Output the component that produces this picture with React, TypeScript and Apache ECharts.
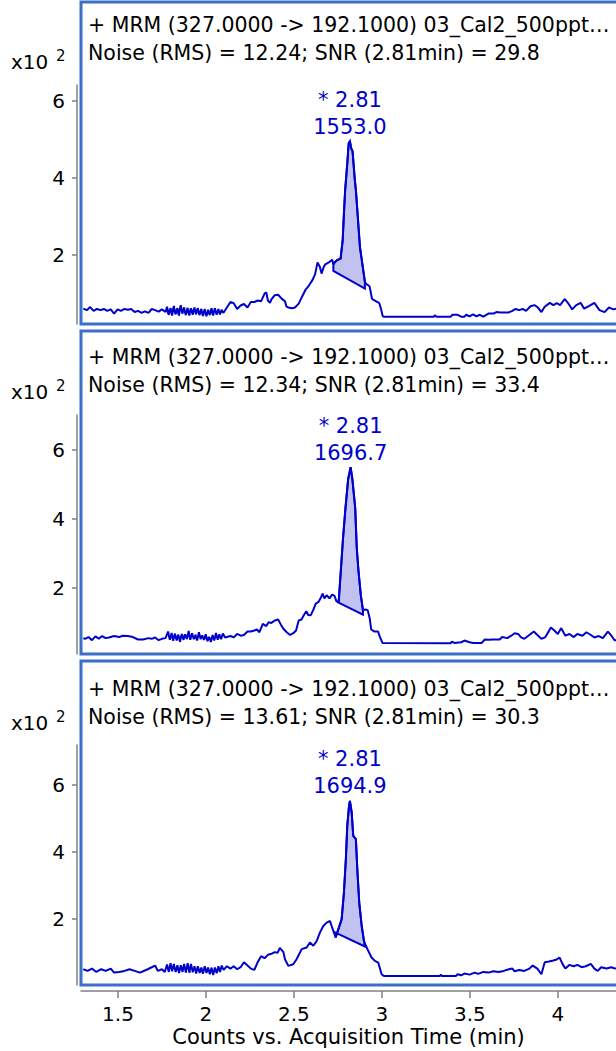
import { useEffect, useRef } from 'react';
import * as echarts from 'echarts';

// ---------- data ----------
const X_MIN = 1.29;
const X_MAX = 4.33;
const xTicks = [1.5, 2, 2.5, 3, 3.5, 4];
const yTicks = [200, 400, 600];
const yMins = [21, 9, 3];
const yMaxs = [642, 701, 719];

const titleLine1 = '+ MRM (327.0000 -> 192.1000) 03_Cal2_500ppt…';
const xAxisTitle = 'Counts vs. Acquisition Time (min)';
const retentionTimes = ['2.81', '2.81', '2.81'];
const peakAreas = ['1553.0', '1696.7', '1694.9'];
const noiseRms = ['12.24', '12.34', '13.61'];
const snrValues = ['29.8', '33.4', '30.3'];

const trace1: number[][] = [
  [1.303,61],[1.323,57],[1.342,65],[1.362,55],[1.381,60],[1.401,57],[1.420,60],[1.439,55],[1.459,59],[1.478,48],[1.498,59],[1.517,55],[1.537,60],[1.556,58],[1.575,60],[1.595,52],[1.614,55],[1.634,50],[1.653,54],[1.673,50],[1.692,60],[1.711,57],[1.731,53],[1.750,59],[1.770,52],
  [1.779,66],[1.784,50],[1.789,45],[1.794,58],[1.799,62],[1.804,49],[1.808,43],[1.813,60],[1.818,68],[1.823,52],[1.828,46],[1.833,57],[1.838,62],[1.842,50],[1.847,43],[1.852,61],[1.857,70],[1.862,55],[1.867,48],[1.871,58],[1.876,64],[1.881,51],[1.886,44],[1.891,56],[1.896,63],[1.901,50],[1.906,43],[1.910,55],[1.915,62],[1.920,52],[1.925,45],[1.930,57],[1.935,64],[1.940,52],[1.944,46],[1.949,57],[1.954,62],[1.959,50],[1.964,44],[1.969,55],[1.974,60],[1.978,49],[1.983,42],[1.988,52],[1.993,60],[1.998,48],[2.003,41],[2.008,50],[2.012,58],[2.017,50],[2.022,44],[2.027,55],[2.032,62],[2.036,50],[2.041,43],[2.046,55],[2.051,62],[2.056,52],[2.061,45],[2.066,54],[2.071,60],[2.075,52],[2.080,46],[2.085,53],[2.090,58],[2.095,52],[2.100,50],
  [2.119,64],[2.139,78],[2.158,75],[2.177,60],[2.197,69],[2.216,73],[2.236,64],[2.255,78],[2.275,78],[2.294,82],[2.313,80],[2.333,100],[2.343,103],[2.352,82],[2.364,76],[2.372,85],[2.391,96],[2.410,97],[2.430,87],[2.449,80],[2.458,66],[2.469,64],[2.488,62],[2.506,64],[2.527,74],[2.546,92],[2.566,110],[2.585,121],[2.605,135],[2.620,150],[2.634,181],[2.647,170],[2.657,152],[2.668,168],[2.678,176],[2.698,181],[2.717,188],[2.724,176],[2.731,181],[2.745,187],[2.765,191],[2.777,239],[2.784,308],[2.791,369],[2.803,438],[2.811,490],[2.818,496],[2.825,478],[2.833,470],[2.846,395],[2.852,369],[2.875,221],[2.903,131],[2.912,124],[2.922,122],[2.930,118],[2.944,86],[2.955,83],[2.985,75],[2.995,60],[3.004,42],[3.010,40],
  [3.295,40],[3.300,44],[3.310,40],[3.391,40],[3.401,45],[3.430,45],[3.450,40],[3.469,40],[3.479,45],[3.498,41],[3.518,46],[3.537,41],[3.556,45],[3.576,40],[3.605,48],[3.634,48],[3.650,52],[3.673,51],[3.721,51],[3.741,55],[3.760,60],[3.780,57],[3.799,60],[3.819,55],[3.844,67],[3.867,70],[3.886,64],[3.906,52],[3.925,66],[3.954,76],[3.974,70],[3.993,75],[4.013,70],[4.038,86],[4.061,73],[4.081,59],[4.104,70],[4.129,76],[4.149,61],[4.178,68],[4.207,76],[4.236,57],[4.265,52],[4.290,64],[4.314,59],[4.330,61],
];

const trace2: number[][] = [
  [1.303,55],[1.313,53],[1.333,58],[1.352,49],[1.372,60],[1.391,53],[1.410,61],[1.430,55],[1.449,57],[1.478,61],[1.507,58],[1.527,62],[1.556,61],[1.585,58],[1.614,51],[1.643,51],[1.673,55],[1.692,53],[1.711,57],[1.731,49],[1.750,53],[1.770,55],
  [1.785,74],[1.790,60],[1.795,50],[1.800,62],[1.805,70],[1.810,56],[1.814,47],[1.819,60],[1.824,68],[1.829,57],[1.834,48],[1.838,58],[1.843,65],[1.848,54],[1.853,44],[1.858,58],[1.863,67],[1.868,58],[1.873,50],[1.877,60],[1.882,66],[1.887,58],[1.892,52],[1.897,64],[1.902,76],[1.906,62],[1.911,50],[1.916,60],[1.921,69],[1.926,60],[1.931,52],[1.936,58],[1.941,65],[1.945,55],[1.950,48],[1.955,60],[1.960,72],[1.965,62],[1.970,52],[1.974,58],[1.979,63],[1.984,56],[1.989,50],[1.994,58],[1.999,66],[2.004,55],[2.009,46],[2.013,52],[2.018,59],[2.023,52],[2.028,44],[2.033,54],[2.038,64],[2.042,56],[2.047,48],[2.052,58],[2.057,70],[2.062,60],[2.067,50],[2.071,58],[2.076,66],[2.081,58],[2.086,52],[2.091,60],[2.096,68],
  [2.109,57],[2.139,61],[2.158,57],[2.177,67],[2.197,62],[2.216,64],[2.236,74],[2.255,74],[2.275,77],[2.290,80],[2.304,72],[2.323,96],[2.343,90],[2.356,101],[2.372,99],[2.391,106],[2.410,109],[2.426,94],[2.440,82],[2.459,72],[2.478,64],[2.498,70],[2.512,77],[2.527,106],[2.543,109],[2.556,121],[2.570,133],[2.581,122],[2.595,121],[2.611,138],[2.624,155],[2.640,160],[2.653,172],[2.663,184],[2.673,170],[2.686,179],[2.702,170],[2.717,181],[2.731,177],[2.741,162],[2.754,158],[2.766,247],[2.779,345],[2.793,433],[2.808,515],[2.822,550],[2.832,515],[2.848,433],[2.857,316],[2.867,248],[2.880,179],[2.892,136],[2.906,138],[2.919,136],[2.931,111],[2.939,80],[2.958,74],[2.978,74],[2.989,58],[3.003,41],
  [3.391,40],[3.397,45],[3.411,41],[3.450,43],[3.469,48],[3.498,43],[3.518,41],[3.566,41],[3.585,51],[3.605,50],[3.634,51],[3.669,51],[3.683,58],[3.712,55],[3.735,62],[3.754,69],[3.774,67],[3.789,58],[3.809,53],[3.832,62],[3.863,74],[3.883,64],[3.906,53],[3.929,58],[3.960,86],[3.980,77],[3.999,67],[4.019,84],[4.042,62],[4.065,67],[4.090,58],[4.110,67],[4.139,62],[4.162,72],[4.187,64],[4.207,57],[4.232,61],[4.255,55],[4.284,74],[4.304,62],[4.323,48],[4.330,50],
];

const trace3: number[][] = [
  [1.303,50],[1.327,45],[1.352,52],[1.377,42],[1.405,50],[1.430,45],[1.459,52],[1.478,40],[1.507,42],[1.537,45],[1.566,50],[1.595,45],[1.624,40],[1.643,44],[1.669,50],[1.692,56],[1.711,61],[1.727,45],[1.750,50],[1.766,42],
  [1.779,64],[1.784,52],[1.789,42],[1.794,56],[1.799,68],[1.804,55],[1.808,44],[1.813,56],[1.818,66],[1.823,52],[1.828,42],[1.833,52],[1.838,62],[1.842,50],[1.847,39],[1.852,50],[1.857,62],[1.862,52],[1.867,42],[1.871,54],[1.876,66],[1.881,52],[1.886,40],[1.891,54],[1.896,68],[1.901,54],[1.906,39],[1.910,52],[1.915,66],[1.920,54],[1.925,41],[1.930,50],[1.935,59],[1.940,48],[1.944,37],[1.949,48],[1.954,59],[1.959,50],[1.964,39],[1.969,46],[1.974,55],[1.978,46],[1.983,37],[1.988,48],[1.993,59],[1.998,50],[2.003,39],[2.008,46],[2.012,55],[2.017,46],[2.022,35],[2.027,45],[2.032,55],[2.036,44],[2.041,33],[2.046,44],[2.051,55],[2.056,48],[2.061,38],[2.066,48],[2.071,59],[2.075,50],[2.080,42],[2.085,52],[2.090,61],[2.095,54],[2.100,48],
  [2.119,59],[2.139,52],[2.158,59],[2.177,50],[2.197,56],[2.216,71],[2.236,61],[2.255,52],[2.275,48],[2.294,71],[2.313,89],[2.333,83],[2.352,93],[2.372,96],[2.391,101],[2.407,99],[2.420,114],[2.440,101],[2.449,80],[2.468,60],[2.496,65],[2.515,80],[2.544,110],[2.572,115],[2.591,130],[2.610,120],[2.629,134],[2.648,160],[2.667,179],[2.686,189],[2.705,194],[2.714,179],[2.727,160],[2.737,145],[2.752,169],[2.771,199],[2.784,279],[2.795,378],[2.803,478],[2.813,537],[2.818,552],[2.828,518],[2.837,448],[2.852,438],[2.860,349],[2.871,249],[2.885,179],[2.898,134],[2.909,120],[2.922,105],[2.941,85],[2.960,75],[2.979,70],[2.998,35],[3.011,30],
  [3.330,30],[3.335,34],[3.340,30],[3.420,30],[3.430,35],[3.450,32],[3.469,37],[3.498,34],[3.527,40],[3.547,36],[3.576,42],[3.605,40],[3.634,44],[3.663,42],[3.692,45],[3.721,50],[3.741,52],[3.754,44],[3.780,48],[3.809,45],[3.838,52],[3.857,61],[3.883,52],[3.906,35],[3.925,71],[3.949,73],[3.974,76],[3.993,79],[4.009,85],[4.026,66],[4.042,52],[4.065,63],[4.090,59],[4.110,63],[4.135,56],[4.158,59],[4.187,66],[4.207,52],[4.226,45],[4.246,56],[4.275,52],[4.304,56],[4.325,52],[4.330,53],
];

const traces = [trace1, trace2, trace3];
const peakStart = [[2.724, 159], [2.754, 158], [2.733, 160]];
const peakEnd = [[2.903, 113], [2.892, 123], [2.903, 118]];
const peakApex = [[2.818, 496], [2.822, 550], [2.818, 552]];

// ---------- layout / style ----------
const FONT = 'DejaVu Sans';
const BLUE = '#0000cc';
const FILL = '#c2c2f0';
const FRAME = '#3b6fc8';
const AXIS = '#808080';

const panels = [
  { boxTop: 2, boxBottom: 324, gridTop: 85, gridBottom: 324, titleTop: 11, unitY: 62 },
  { boxTop: 331, boxBottom: 654, gridTop: 415, gridBottom: 654, titleTop: 343, unitY: 392 },
  { boxTop: 661, boxBottom: 985, gridTop: 745, gridBottom: 985, titleTop: 675, unitY: 723 },
];

const W = 616;
const H = 1051;

export default function App() {
  const ref = useRef<HTMLDivElement>(null);

  useEffect(() => {
    if (!ref.current) return;
    const chart = echarts.init(ref.current, null, { renderer: 'svg' });

    const grid = panels.map((p) => ({
      left: 81,
      right: 0,
      top: p.gridTop,
      height: p.gridBottom - p.gridTop,
      outerBoundsMode: 'none',
      containLabel: false,
    }));

    const xAxis = panels.map((_, i) => ({
      type: 'value',
      gridIndex: i,
      min: X_MIN,
      max: X_MAX,
      show: i === 2,
      position: 'bottom',
      offset: 6,
      axisLine: { show: true, onZero: false, lineStyle: { color: AXIS, width: 1.5 } },
      axisTick: { show: true, inside: false, length: 7, customValues: xTicks, lineStyle: { color: AXIS, width: 1.5 } },
      axisLabel: {
        show: true,
        customValues: xTicks,
        margin: 13,
        color: '#000',
        fontSize: 20,
        fontFamily: FONT,
        formatter: (v: number) => String(v),
      },
      splitLine: { show: false },
      name: i === 2 ? xAxisTitle : '',
      nameLocation: 'middle',
      nameGap: 35,
      nameTextStyle: { color: '#000', fontSize: 21, fontFamily: FONT },
    }));

    const yAxis = panels.map((_, i) => ({
      type: 'value',
      gridIndex: i,
      min: yMins[i],
      max: yMaxs[i],
      position: 'left',
      offset: 4,
      axisLine: { show: true, onZero: false, lineStyle: { color: AXIS, width: 1.5 } },
      axisTick: { show: true, inside: false, length: 5, customValues: yTicks, lineStyle: { color: AXIS, width: 1.5 } },
      axisLabel: {
        show: true,
        customValues: yTicks,
        margin: 12,
        color: '#000',
        fontSize: 20,
        fontFamily: FONT,
        formatter: (v: number) => String(v / 100),
      },
      splitLine: { show: false },
    }));

    const series: any[] = [];
    traces.forEach((trace, i) => {
      const start = peakStart[i];
      const end = peakEnd[i];
      series.push({
        type: 'custom',
        xAxisIndex: i,
        yAxisIndex: i,
        z: 2,
        clip: true,
        data: [start],
        encode: { x: 0, y: 1 },
        renderItem: (_params: any, api: any) => {
          const pts: number[][] = [api.coord(start)];
          trace.forEach((p) => {
            if (p[0] >= start[0] && p[0] <= end[0]) pts.push(api.coord(p));
          });
          pts.push(api.coord(end));
          return {
            type: 'polygon',
            shape: { points: pts },
            style: { fill: FILL, stroke: BLUE, lineWidth: 2 },
          };
        },
      });
      series.push({
        type: 'line',
        xAxisIndex: i,
        yAxisIndex: i,
        z: 3,
        data: trace,
        symbol: 'none',
        showSymbol: false,
        lineStyle: { color: BLUE, width: 2 },
        markPoint: {
          symbol: 'circle',
          symbolSize: 0,
          itemStyle: { color: 'rgba(0,0,0,0)' },
          label: {
            show: true,
            position: 'top',
            distance: 1,
            color: BLUE,
            fontSize: 21,
            lineHeight: 27,
            fontFamily: FONT,
            align: 'center',
            formatter: `* ${retentionTimes[i]}\n${peakAreas[i]}`,
          },
          data: [{ coord: peakApex[i] }],
        },
      });
    });

    const title = panels.map((p, i) => ({
      text: `${titleLine1}\nNoise (RMS) = ${noiseRms[i]}; SNR (${retentionTimes[i]}min) = ${snrValues[i]}`,
      left: 88,
      top: p.titleTop,
      padding: 0,
      textStyle: { color: '#000', fontSize: 20.5, lineHeight: 28, fontFamily: FONT, fontWeight: 'normal' },
    }));

    const graphic: any[] = [];
    panels.forEach((p) => {
      graphic.push({
        type: 'rect',
        shape: { x: 81, y: p.boxTop, width: 620, height: p.boxBottom - p.boxTop },
        style: { fill: 'none', stroke: FRAME, lineWidth: 3 },
        z: 1,
      });
      graphic.push({
        type: 'text',
        x: 11,
        y: p.unitY,
        style: { text: 'x10', fontSize: 20, fontFamily: FONT, fill: '#000', verticalAlign: 'middle' },
      });
      graphic.push({
        type: 'text',
        x: 56,
        y: p.unitY - 6,
        style: { text: '2', fontSize: 15, fontFamily: FONT, fill: '#000', verticalAlign: 'middle' },
      });
    });

    chart.setOption({
      animation: false,
      backgroundColor: '#fff',
      title,
      grid,
      xAxis,
      yAxis,
      series,
      graphic,
    });

    return () => chart.dispose();
  }, []);

  return <div ref={ref} style={{ position: 'absolute', left: 0, top: 0, width: W, height: H }} />;
}
